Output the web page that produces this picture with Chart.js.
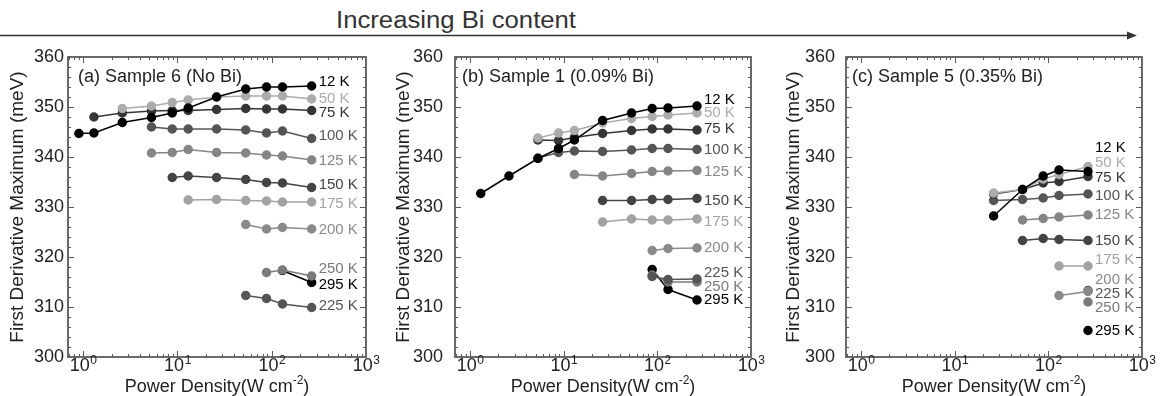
<!DOCTYPE html>
<html>
<head>
<meta charset="utf-8">
<script src="https://cdn.jsdelivr.net/npm/chart.js@4"></script>
<style>
  body { margin: 0; background: #fff; width: 1161px; height: 396px; overflow: hidden; position: relative; }
  canvas { position: absolute; top: 0; }
  #head { position: absolute; left: 0; top: 0; }
</style>
</head>
<body>
<svg id="head" width="1161" height="45">
  <line x1="0" y1="35.5" x2="1128" y2="35.5" stroke="#333" stroke-width="1.5"/>
  <polygon points="1137,35.5 1127,31.5 1127,39.5" fill="#333"/>
  <text x="456" y="28" text-anchor="middle" font-family="Liberation Sans, Arial, sans-serif" font-size="23" textLength="240" lengthAdjust="spacingAndGlyphs" fill="#333">Increasing Bi content</text>
</svg>
<canvas id="c6" width="385" height="396" style="left:0"></canvas>
<canvas id="c1" width="385" height="396" style="left:385px"></canvas>
<canvas id="c5" width="391" height="396" style="left:770px"></canvas>
<script>
// power density (W cm-2) shared by all measurements
const power = [0.9, 1.3, 2.6, 5.3, 8.8, 13, 26, 53, 88, 130, 265];
const temps = ['12 K', '50 K', '75 K', '100 K', '125 K', '150 K', '175 K', '200 K', '225 K', '250 K', '295 K'];
const colors = ['#000000', '#acacac', '#363636', '#555555', '#858585', '#444444', '#a2a2a2', '#8a8a8a', '#555555', '#7a7a7a', '#000000'];

// first derivative maximum (meV), one row per temperature
const sample6 = [
  [344.7, 344.8, 346.9, 347.9, 348.8, 349.8, 352.0, 353.6, 354.0, 354.0, 354.2],
  [null, null, 349.7, 350.2, 350.9, 351.4, 352.0, 352.2, 352.2, 352.2, 351.6],
  [null, 348.0, 348.8, 349.2, 349.3, 349.3, 349.5, 349.7, 349.6, 349.6, 349.3],
  [null, null, null, 346.0, 345.6, 345.6, 345.6, 345.4, 344.8, 345.2, 343.7],
  [null, null, null, 340.8, 340.9, 341.5, 340.9, 340.8, 340.4, 340.2, 339.4],
  [null, null, null, null, 335.9, 336.2, 335.9, 335.5, 334.9, 334.8, 333.9],
  [null, null, null, null, null, 331.4, 331.5, 331.3, 331.2, 331.0, 331.0],
  [null, null, null, null, null, null, null, 326.5, 325.6, 325.9, 325.6],
  [null, null, null, null, null, null, null, 312.3, 311.7, 310.6, 309.9],
  [null, null, null, null, null, null, null, null, 316.9, 317.4, 316.2],
  [null, null, null, null, null, null, null, null, null, 317.3, 314.9]
];
const sample1 = [
  [null, 332.7, 336.2, 339.7, 341.7, 343.4, 347.3, 348.8, 349.7, 349.8, 350.2],
  [null, null, null, 343.8, 344.8, 345.3, 346.8, 347.7, 348.1, 348.4, 348.8],
  [null, null, null, 343.4, 343.3, 343.9, 344.7, 345.3, 345.6, 345.6, 345.4],
  [null, null, null, 339.8, 340.9, 341.2, 341.1, 341.4, 341.7, 341.7, 341.5],
  [null, null, null, null, null, 336.5, 336.2, 336.7, 337.1, 337.2, 337.3],
  [null, null, null, null, null, null, 331.3, 331.3, 331.5, 331.5, 331.7],
  [null, null, null, null, null, null, 327.0, 327.6, 327.4, 327.4, 327.6],
  [null, null, null, null, null, null, null, null, 321.3, 321.7, 321.8],
  [null, null, null, null, null, null, null, null, 316.1, 315.5, 315.6],
  [null, null, null, null, null, null, null, null, 316.4, 315.0, 315.0],
  [null, null, null, null, null, null, null, null, 317.5, 313.5, 311.4]
];
const sample5 = [
  [null, null, null, null, null, null, 328.2, 333.5, 336.2, 337.4, 337.1],
  [null, null, null, null, null, null, 332.8, 333.5, 335.6, 336.5, 338.1],
  [null, null, null, null, null, null, 332.6, 333.5, 334.8, 335.1, 336.1],
  [null, null, null, null, null, null, 331.3, 331.5, 331.8, 332.3, 332.6],
  [null, null, null, null, null, null, null, 327.4, 327.7, 328.0, 328.4],
  [null, null, null, null, null, null, null, 323.3, 323.7, 323.5, 323.3],
  [null, null, null, null, null, null, null, null, null, 318.2, 318.2],
  [null, null, null, null, null, null, null, null, null, 312.3, 313.1],
  [null, null, null, null, null, null, null, null, null, null, 313.3],
  [null, null, null, null, null, null, null, null, null, null, 311.0],
  [null, null, null, null, null, null, null, null, null, null, 305.3]
];

// where each temperature label sits (meV)
const labelY6 = [355.1, 351.6, 348.9, 344.3, 339.3, 334.5, 330.7, 325.4, 310.2, 317.7, 314.4];
const labelY1 = [351.4, 348.9, 345.7, 341.4, 337.1, 331.3, 327.1, 321.8, 316.9, 314.1, 311.4];
const labelY5 = [341.9, 338.9, 335.9, 332.3, 328.4, 323.3, 319.4, 315.4, 312.6, 309.9, 305.3];

const xExponents = [0, 1, 2, 3];
const FONT = '"Liberation Sans", Arial, sans-serif';
Chart.defaults.font.family = FONT;

const frame = {
  id: 'frame',
  afterDatasetsDraw(chart, args, opts) {
    const { ctx, chartArea: a, scales: { x, y } } = chart;
    ctx.save();
    ctx.strokeStyle = '#5a5a5a';
    ctx.lineWidth = 1.8;
    ctx.strokeRect(a.left, a.top, a.right - a.left, a.bottom - a.top);

    ctx.lineWidth = 1;
    ctx.beginPath();
    for (let e = -1; e < 3; e++) {
      for (let m = 1; m < 10; m++) {
        const v = m * Math.pow(10, e);
        if (v < x.min || v > x.max) continue;
        const px = Math.round(x.getPixelForValue(v)) + 0.5;
        const len = m === 1 ? 6 : 3;
        ctx.moveTo(px, a.bottom); ctx.lineTo(px, a.bottom - len);
        ctx.moveTo(px, a.top); ctx.lineTo(px, a.top + len);
      }
    }
    for (let v = 302; v < 360; v += 2) {
      const py = Math.round(y.getPixelForValue(v)) + 0.5;
      const len = v % 10 === 0 ? 6 : 3;
      ctx.moveTo(a.left, py); ctx.lineTo(a.left + len, py);
      ctx.moveTo(a.right, py); ctx.lineTo(a.right - len, py);
    }
    ctx.stroke();

    // x tick labels 10^n
    ctx.fillStyle = '#222';
    ctx.textBaseline = 'alphabetic';
    ctx.textAlign = 'left';
    xExponents.forEach(e => {
      const px = x.getPixelForValue(Math.pow(10, e));
      ctx.font = '18px ' + FONT;
      const w1 = ctx.measureText('10').width;
      ctx.font = '12px ' + FONT;
      const w2 = ctx.measureText(String(e)).width;
      const left = px - (w1 + w2) / 2;
      ctx.font = '18px ' + FONT;
      ctx.fillText('10', left, 371);
      ctx.font = '12px ' + FONT;
      ctx.fillText(String(e), left + w1 + 0.5, 364);
    });

    // x axis title with superscript
    const t1 = 'Power Density(W cm', t2 = '-2', t3 = ')';
    ctx.font = '18px ' + FONT;
    const a1 = ctx.measureText(t1).width, a3 = ctx.measureText(t3).width;
    ctx.font = '12px ' + FONT;
    const a2 = ctx.measureText(t2).width;
    const tx = (a.left + a.right) / 2 - (a1 + a2 + a3) / 2;
    ctx.font = '18px ' + FONT;
    ctx.fillText(t1, tx, 392);
    ctx.font = '12px ' + FONT;
    ctx.fillText(t2, tx + a1, 384);
    ctx.font = '18px ' + FONT;
    ctx.fillText(t3, tx + a1 + a2, 392);

    // panel title
    ctx.font = '18px ' + FONT;
    ctx.fillText(opts.title, a.left + opts.titleDx, 82);

    // temperature labels
    ctx.font = '15px ' + FONT;
    ctx.textBaseline = 'middle';
    const lx = x.getPixelForValue(power[power.length - 1]) + 7;
    opts.labelY.forEach((v, i) => {
      ctx.fillStyle = colors[i];
      ctx.fillText(temps[i], lx, y.getPixelForValue(v));
    });
    ctx.restore();
  }
};

function makeChart(id, rows, labelY, title, titleDx, axisW, tickPad, titlePad) {
  const datasets = rows.map((row, i) => ({
    label: temps[i],
    data: row.map((v, j) => ({ x: power[j], y: v })).filter(p => p.y !== null),
    borderColor: colors[i],
    backgroundColor: colors[i],
    pointBackgroundColor: colors[i],
    pointBorderColor: colors[i],
    pointRadius: 4,
    borderWidth: 1.5,
    showLine: true
  }));
  return new Chart(document.getElementById(id), {
    type: 'scatter',
    data: { datasets },
    options: {
      responsive: false,
      animation: false,
      events: [],
      layout: { padding: { left: 0, right: 19, top: 57, bottom: 0 } },
      plugins: {
        legend: { display: false },
        tooltip: { enabled: false },
        frame: { labelY, title, titleDx }
      },
      scales: {
        x: {
          type: 'logarithmic',
          min: 0.69,
          max: 1000,
          grid: { display: false },
          border: { display: false },
          ticks: { display: false },
          afterFit: s => { s.height = 39; }
        },
        y: {
          min: 300,
          max: 360,
          grid: { display: false, drawTicks: false },
          border: { display: false },
          ticks: { stepSize: 10, padding: tickPad, color: '#222', font: { size: 18 } },
          title: {
            display: true,
            text: 'First Derivative Maximum (meV)',
            color: '#222',
            font: { size: 19, lineHeight: 1.2 },
            padding: { top: titlePad, bottom: 0 }
          },
          afterFit: s => { s.width = axisW; }
        }
      }
    },
    plugins: [frame]
  });
}

makeChart('c6', sample6, labelY6, '(a) Sample 6 (No Bi)', 10, 68, 4, 6);
makeChart('c1', sample1, labelY1, '(b) Sample 1 (0.09% Bi)', 7, 70, 12, 7);
makeChart('c5', sample5, labelY5, '(c) Sample 5 (0.35% Bi)', 6, 76, 11, 12);
</script>
</body>
</html>
